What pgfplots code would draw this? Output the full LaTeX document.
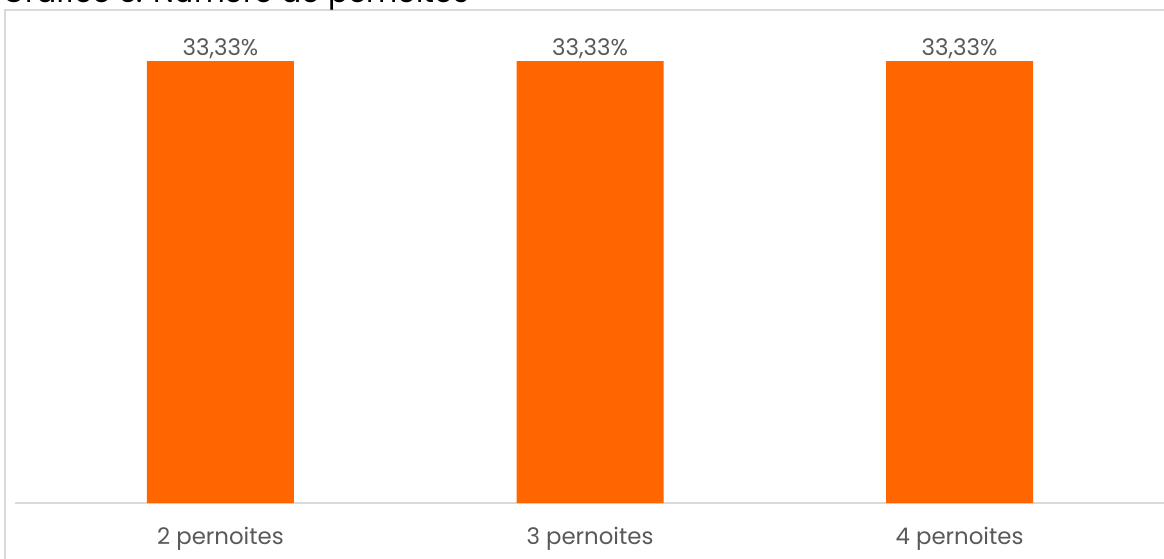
\documentclass[border=0pt]{standalone}
\usepackage{pgfplots}
\pgfplotsset{compat=1.18}
\usepackage{fontspec}
\setmainfont{Poppins}
\definecolor{barorange}{HTML}{FF6600}
\definecolor{txtgray}{HTML}{595959}
\definecolor{linegray}{HTML}{D9D9D9}
\begin{document}
\begin{tikzpicture}
% page = 1164 x 558 px, 1 px = 0.02cm; axis origin at px (15, 503 from top)
\begin{axis}[
  at={(0,0)}, anchor=south west,
  scale only axis,
  width=23cm, height=9.282cm,
  xmin=-0.556, xmax=2.556,
  ymin=0, ymax=35,
  hide y axis,
  axis x line*=bottom,
  x axis line style={draw=linegray, line width=1.2pt, -},
  major tick length=0pt,
  xtick=data,
  xticklabels={2 pernoites, 3 pernoites, 4 pernoites},
  xticklabel style={text=txtgray, font=\fontsize{13}{15}\selectfont, yshift=-10pt},
  /pgf/number format/assume math mode=true,
  /pgf/number format/use comma,
  /pgf/number format/fixed,
  /pgf/number format/precision=2,
  nodes near coords={\pgfmathprintnumber{\pgfplotspointmeta}\%},
  every node near coord/.append style={text=txtgray, font=\fontsize{13}{15}\selectfont, yshift=-2pt},
  clip=false,
]
\addplot[ybar, bar width=2.94cm, fill=barorange, draw=none] coordinates {
  (0,33.33) (1,33.33) (2,33.33)
};
\end{axis}
\draw[linegray, line width=0.6pt] (-0.2cm,-2cm) -- (-0.2cm,9.86cm) -- (24cm,9.86cm);
\node[anchor=base west, inner sep=0pt, font=\fontsize{17}{20}\selectfont, text=black] at (-0.26cm,10.0cm) {Gráfico 3: Número de pernoites};
\pgfresetboundingbox
\useasboundingbox (-0.3cm,-1.1cm) rectangle (22.98cm,10.06cm);
\end{tikzpicture}
\end{document}
